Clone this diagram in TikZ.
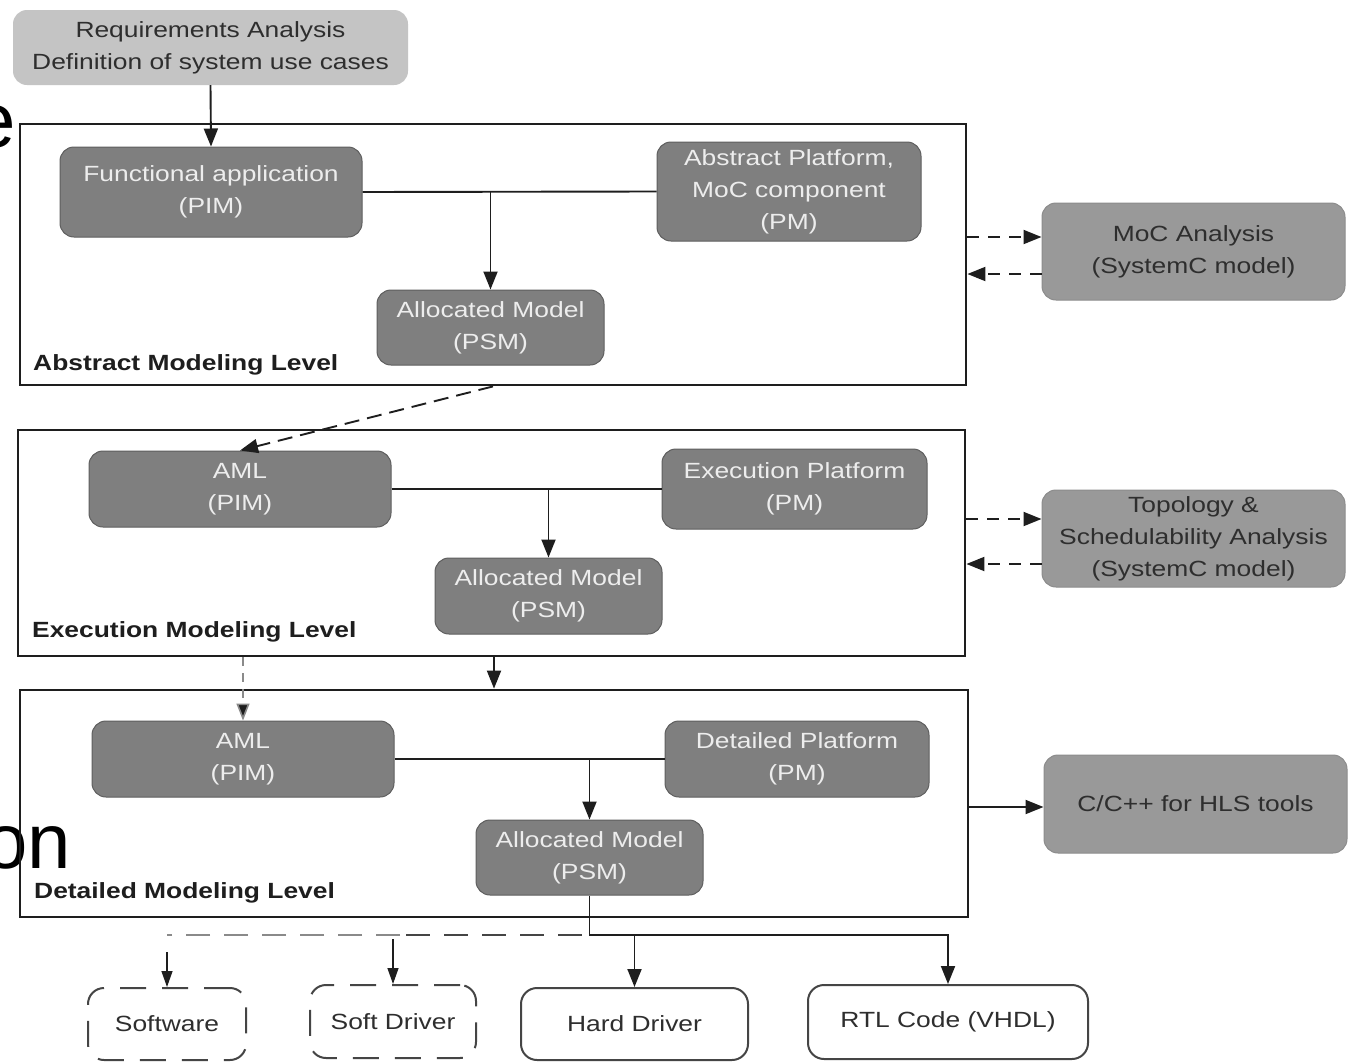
\documentclass[tikz,border=0pt]{standalone}
\usepackage{fontspec}
\setmainfont{Liberation Sans}[FakeStretch=1.2]
\newfontfamily\bigfont{Liberation Sans}
\usetikzlibrary{arrows.meta,calc}

\definecolor{boxdark}{HTML}{7F7F7F}
\definecolor{boxedge}{HTML}{5E5E5E}
\definecolor{boxtext}{HTML}{EDEDED}
\definecolor{boxmid}{HTML}{999999}
\definecolor{boxmidedge}{HTML}{8C8C8C}
\definecolor{inktext}{HTML}{2E2E2E}
\definecolor{reqfill}{HTML}{C4C4C4}
\definecolor{frameink}{HTML}{1E1E1E}
\definecolor{lightdash}{HTML}{8A8A8A}
\definecolor{darkdash}{HTML}{454545}

\begin{document}
\begin{tikzpicture}[x=1pt,y=-1pt,
  txt/.style={font=\fontsize{22}{32}\selectfont, align=center, inner sep=0pt},
  darkbox/.style={txt, draw=boxedge, line width=1pt, fill=boxdark, text=boxtext, rounded corners=14pt},
  midbox/.style={txt, draw=boxmidedge, line width=1pt, fill=boxmid, text=inktext, rounded corners=14pt},
  reqbox/.style={txt, fill=reqfill, text=inktext, rounded corners=14pt},
  outbox/.style={txt, draw=darkdash, line width=2pt, fill=white, text=inktext, rounded corners=16pt},
  dashbox/.style={outbox, dash pattern=on 26pt off 16pt},
  levelframe/.style={draw=frameink, line width=2.8pt, inner sep=0pt},
  levellabel/.style={font=\bfseries\fontsize{22}{26}\selectfont, text=frameink, inner sep=0pt, anchor=west},
  conn/.style={draw=frameink, line width=1.9pt},
  arr/.style={conn, -{Triangle[length=18pt,width=14pt]}},
  thinarr/.style={draw=frameink, line width=1.3pt, -{Triangle[length=16pt,width=11pt]}},
  darr/.style={arr, dash pattern=on 12pt off 9pt},
  farr/.style={arr, dash pattern=on 15pt off 8pt},
  garr/.style={draw=lightdash, line width=1.6pt, dash pattern=on 9pt off 7pt, -{Triangle[length=17pt,width=13pt,fill=frameink]}},
]
\clip (0,0) rectangle (1351,1063);
\fill[white] (0,0) rectangle (1351,1063);

% large slide lettering in the background
\node[anchor=base west, inner sep=0pt, font=\bigfont\fontsize{78}{78}\selectfont] (bigE) at (-28,147) {e};
\node[anchor=base west, inner sep=0pt, font=\bigfont\fontsize{78}{78}\selectfont] (bigOn) at (-16,868) {on};

% modeling level frames
\node[levelframe, minimum width=946pt, minimum height=261pt] (absF) at (493,254.5) {};
\node[levelframe, minimum width=947pt, minimum height=226pt] (exeF) at (491.5,543) {};
\node[levelframe, minimum width=948pt, minimum height=227pt] (detF) at (494,803.5) {};

\node[levellabel] (absL) at (33,365) {Abstract Modeling Level};
\node[levellabel] (exeL) at (32,632) {Execution Modeling Level};
\node[levellabel] (detL) at (34,893) {Detailed Modeling Level};

% requirements
\node[reqbox, minimum width=395pt, minimum height=75pt] (req) at (210.5,47.5) {Requirements Analysis\\Definition of system use cases};

% abstract level
\node[darkbox, minimum width=302pt, minimum height=90pt] (fa) at (211,192) {Functional application\\(PIM)};
\node[darkbox, minimum width=264pt, minimum height=99pt] (ap) at (789,191.5) {Abstract Platform,\\MoC component\\(PM)};
\node[darkbox, minimum width=227pt, minimum height=75pt] (am1) at (490.5,327.5) {Allocated Model\\(PSM)};

% execution level
\node[darkbox, minimum width=302pt, minimum height=76pt] (aml1) at (240,489) {AML\\(PIM)};
\node[darkbox, minimum width=265pt, minimum height=80pt] (ep) at (794.5,489) {Execution Platform\\(PM)};
\node[darkbox, minimum width=227pt, minimum height=76pt] (am2) at (548.5,596) {Allocated Model\\(PSM)};

% detailed level
\node[darkbox, minimum width=302pt, minimum height=76pt] (aml2) at (243,759) {AML\\(PIM)};
\node[darkbox, minimum width=264pt, minimum height=76pt] (dp) at (797,759) {Detailed Platform\\(PM)};
\node[darkbox, minimum width=227pt, minimum height=75pt] (am3) at (589.5,857.5) {Allocated Model\\(PSM)};

% analysis side boxes
\node[midbox, minimum width=303pt, minimum height=97pt] (moc) at (1193.5,251.5) {MoC Analysis\\(SystemC model)};
\node[midbox, minimum width=303pt, minimum height=97pt] (topo) at (1193.5,538.5) {Topology \&\\Schedulability Analysis\\(SystemC model)};
\node[midbox, minimum width=303pt, minimum height=98pt] (cpp) at (1195.5,804) {C/C++ for HLS tools};

% generated artefacts
\node[dashbox, minimum width=158pt, minimum height=72pt] (sw) at (167,1024) {Software};
\node[dashbox, minimum width=166pt, minimum height=73pt] (sd) at (393,1021.5) {Soft Driver};
\node[outbox, minimum width=227pt, minimum height=72pt] (hd) at (634.5,1024) {Hard Driver};
\node[outbox, minimum width=280pt, minimum height=74pt] (rtl) at (948,1022) {RTL Code (VHDL)};

% requirements into the abstract level
\draw[arr] (req.south) -- (fa.north);

% allocation inside each level
\draw[conn] (fa.east) -- (ap.west);
\draw[arr] (am1.north |- fa.east) -- (am1.north);
\draw[conn] (aml1.east) -- (ep.west);
\draw[arr] (am2.north |- aml1.east) -- (am2.north);
\draw[conn] (aml2.east) -- (dp.west);
\draw[arr] (am3.north |- aml2.east) -- (am3.north);

% refinement between levels
\draw[farr] ($(am1.south |- absF.south)+(2.5,0)$) -- (aml1.north);
\draw[garr] (aml2.north |- exeF.south) -- (aml2.north);
\draw[arr] (detF.north |- exeF.south) -- (detF.north);

% analysis loops
\draw[darr] (absF.east |- {$(moc.west)+(0,-14.5)$}) -- ($(moc.west)+(0,-14.5)$);
\draw[darr] ($(moc.west)+(0,22.5)$) -- (absF.east |- {$(moc.west)+(0,22.5)$});
\draw[darr] (exeF.east |- {$(topo.west)+(0,-19.5)$}) -- ($(topo.west)+(0,-19.5)$);
\draw[darr] ($(topo.west)+(0,25.5)$) -- (exeF.east |- {$(topo.west)+(0,25.5)$});
\draw[arr] (detF.east |- {$(cpp.west)+(0,3)$}) -- ($(cpp.west)+(0,3)$);

% code generation
\coordinate (J) at (589.5,935);
\coordinate (dmid) at (400,935);
\draw[arr] (am3.south) -- (J) -| (hd.north);
\draw[arr] (J) -| (rtl.north);
\draw[draw=darkdash, line width=2.4pt, dash pattern=on 24pt off 14pt] ($(J)+(-8,0)$) -- (dmid);
\draw[draw=lightdash, line width=2.4pt, dash pattern=on 24pt off 14pt] (dmid) -- (sw.north |- J);
\draw[thinarr] ($(sd.north |- J)+(0,4)$) -- (sd.north);
\draw[thinarr] ($(sw.north |- J)+(0,17)$) -- (sw.north);
\end{tikzpicture}
\end{document}
